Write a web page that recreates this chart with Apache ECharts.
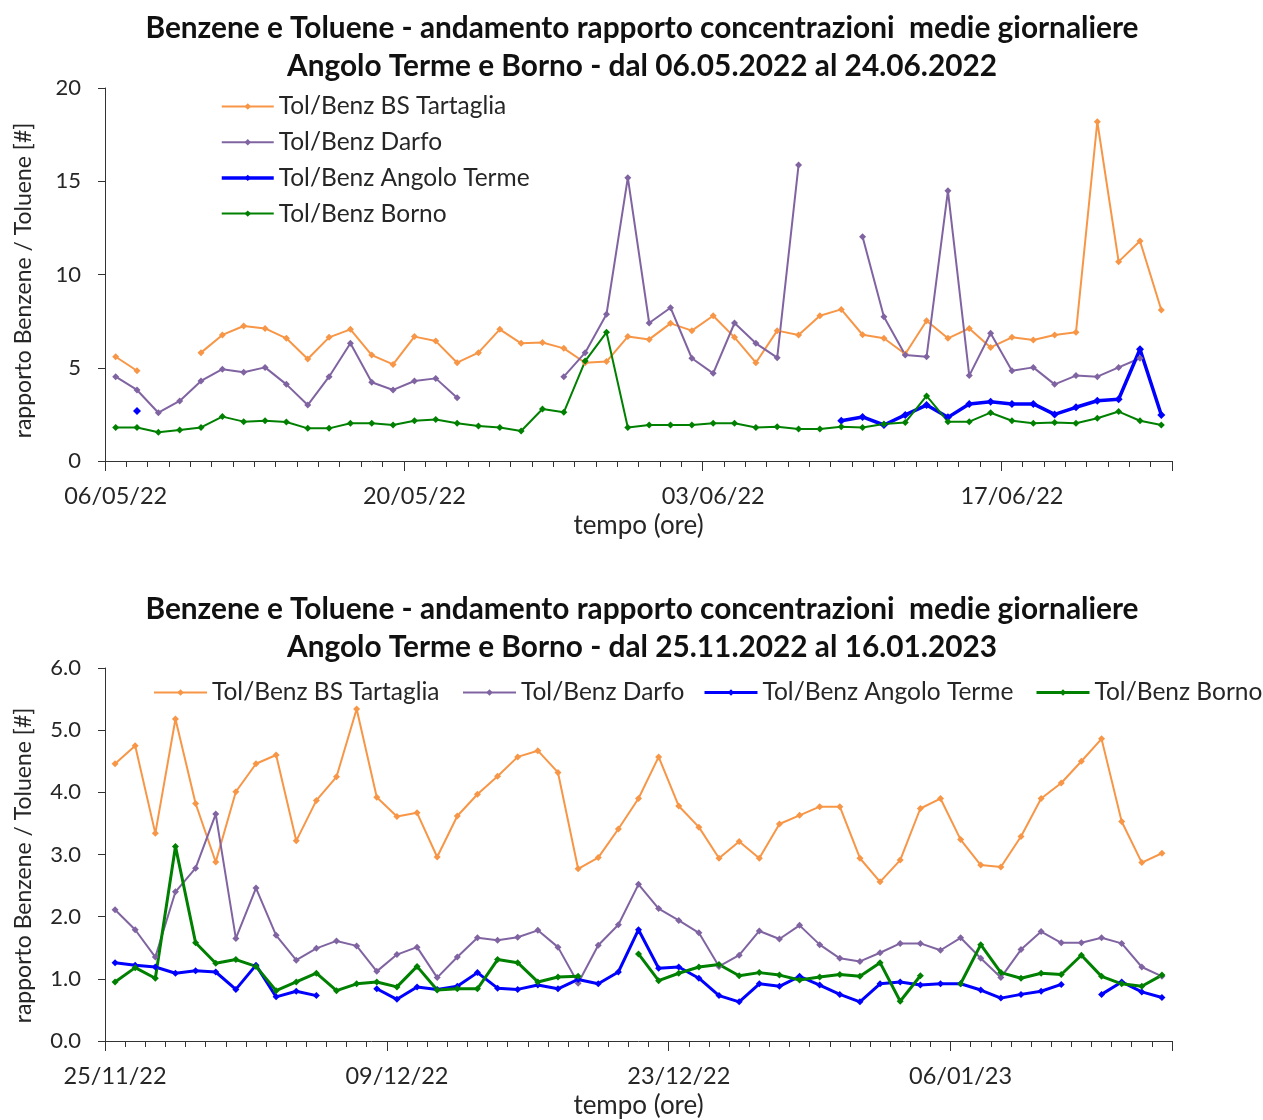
<!DOCTYPE html>
<html>
<head>
<meta charset="utf-8">
<script src="https://cdn.jsdelivr.net/npm/echarts@6/dist/echarts.min.js"></script>
<style>
  html, body { margin: 0; padding: 0; background: #fff; }
  #chart { width: 1263px; height: 1120px; }
</style>
</head>
<body>
<div id="chart"></div>
<script>
// ---- Period 1: 06/05/2022 - 24/06/2022 (daily) ----
const daysSpring = [
  '06/05/22','07/05/22','08/05/22','09/05/22','10/05/22','11/05/22','12/05/22','13/05/22','14/05/22','15/05/22',
  '16/05/22','17/05/22','18/05/22','19/05/22','20/05/22','21/05/22','22/05/22','23/05/22','24/05/22','25/05/22',
  '26/05/22','27/05/22','28/05/22','29/05/22','30/05/22','31/05/22','01/06/22','02/06/22','03/06/22','04/06/22',
  '05/06/22','06/06/22','07/06/22','08/06/22','09/06/22','10/06/22','11/06/22','12/06/22','13/06/22','14/06/22',
  '15/06/22','16/06/22','17/06/22','18/06/22','19/06/22','20/06/22','21/06/22','22/06/22','23/06/22','24/06/22'
];
const tartagliaSpring = [
  5.59, 4.84, null, null, 5.81, 6.76, 7.24, 7.11, 6.58, 5.47,
  6.63, 7.06, 5.68, 5.18, 6.67, 6.43, 5.27, 5.81, 7.06, 6.31,
  6.35, 6.04, 5.27, 5.33, 6.67, 6.52, 7.38, 6.99, 7.79, 6.63,
  5.27, 6.99, 6.76, 7.79, 8.13, 6.77, 6.58, 5.74, 7.52, 6.58,
  7.11, 6.09, 6.63, 6.49, 6.76, 6.90, 18.19, 10.69, 11.80, 8.10
];
const darfoSpring = [
  4.52, 3.81, 2.59, 3.22, 4.29, 4.92, 4.76, 5.02, 4.11, 3.00,
  4.52, 6.31, 4.22, 3.81, 4.29, 4.43, 3.39, null, null, null,
  null, 4.52, 5.81, 7.87, 15.19, 7.40, 8.22, 5.51, 4.70, 7.40,
  6.31, 5.54, 15.87, null, null, 12.03, 7.74, 5.68, 5.59, 14.49,
  4.58, 6.85, 4.84, 5.02, 4.11, 4.58, 4.52, 5.02, 5.51, null
];
const angoloSpring = [
  null, 2.68, null, null, null, null, null, null, null, null,
  null, null, null, null, null, null, null, null, null, null,
  null, null, null, null, null, null, null, null, null, null,
  null, null, null, null, 2.16, 2.36, 1.93, 2.47, 3.00, 2.34,
  3.06, 3.18, 3.06, 3.06, 2.50, 2.88, 3.23, 3.31, 5.99, 2.47
];
const bornoSpring = [
  1.80, 1.80, 1.54, 1.66, 1.80, 2.38, 2.11, 2.16, 2.09, 1.75,
  1.75, 2.02, 2.02, 1.93, 2.16, 2.23, 2.02, 1.88, 1.80, 1.61,
  2.79, 2.61, 5.36, 6.90, 1.80, 1.93, 1.93, 1.93, 2.02, 2.02,
  1.80, 1.84, 1.72, 1.72, 1.84, 1.80, 1.98, 2.07, 3.49, 2.11,
  2.11, 2.59, 2.16, 2.02, 2.07, 2.02, 2.29, 2.65, 2.16, 1.93
];

// ---- Period 2: 25/11/2022 - 16/01/2023 (daily) ----
const daysWinter = [
  '25/11/22','26/11/22','27/11/22','28/11/22','29/11/22','30/11/22','01/12/22','02/12/22','03/12/22','04/12/22',
  '05/12/22','06/12/22','07/12/22','08/12/22','09/12/22','10/12/22','11/12/22','12/12/22','13/12/22','14/12/22',
  '15/12/22','16/12/22','17/12/22','18/12/22','19/12/22','20/12/22','21/12/22','22/12/22','23/12/22','24/12/22',
  '25/12/22','26/12/22','27/12/22','28/12/22','29/12/22','30/12/22','31/12/22','01/01/23','02/01/23','03/01/23',
  '04/01/23','05/01/23','06/01/23','07/01/23','08/01/23','09/01/23','10/01/23','11/01/23','12/01/23','13/01/23',
  '14/01/23','15/01/23','16/01/23'
];
const tartagliaWinter = [
  4.46, 4.75, 3.34, 5.18, 3.82, 2.88, 4.01, 4.46, 4.60, 3.22,
  3.87, 4.25, 5.34, 3.92, 3.61, 3.67, 2.96, 3.62, 3.97, 4.26,
  4.57, 4.67, 4.32, 2.77, 2.95, 3.41, 3.90, 4.57, 3.78, 3.44,
  2.94, 3.21, 2.94, 3.49, 3.63, 3.77, 3.77, 2.94, 2.56, 2.91,
  3.74, 3.90, 3.24, 2.83, 2.80, 3.29, 3.90, 4.15, 4.50, 4.86,
  3.53, 2.87, 3.02
];
const darfoWinter = [
  2.11, 1.79, 1.35, 2.40, 2.78, 3.65, 1.65, 2.46, 1.70, 1.30,
  1.49, 1.61, 1.53, 1.12, 1.39, 1.51, 1.02, 1.35, 1.66, 1.62,
  1.67, 1.78, 1.51, 0.93, 1.54, 1.87, 2.52, 2.13, 1.94, 1.74,
  1.20, 1.38, 1.77, 1.64, 1.86, 1.55, 1.33, 1.28, 1.42, 1.57,
  1.57, 1.46, 1.66, 1.33, 1.02, 1.47, 1.76, 1.58, 1.58, 1.66,
  1.57, 1.19, 1.04
];
const angoloWinter = [
  1.26, 1.22, 1.19, 1.09, 1.13, 1.11, 0.83, 1.22, 0.71, 0.80,
  0.73, null, null, 0.84, 0.67, 0.87, 0.83, 0.88, 1.10, 0.85,
  0.83, 0.90, 0.84, 0.99, 0.92, 1.11, 1.79, 1.17, 1.19, 1.01,
  0.73, 0.63, 0.92, 0.88, 1.04, 0.90, 0.75, 0.63, 0.92, 0.95,
  0.90, 0.92, 0.92, 0.82, 0.69, 0.75, 0.80, 0.91, null, 0.75,
  0.95, 0.79, 0.70
];
const bornoWinter = [
  0.95, 1.18, 1.01, 3.13, 1.58, 1.25, 1.31, 1.20, 0.81, 0.95,
  1.09, 0.81, 0.92, 0.95, 0.87, 1.20, 0.82, 0.84, 0.84, 1.31,
  1.26, 0.95, 1.03, 1.04, null, null, 1.40, 0.97, 1.09, 1.19,
  1.23, 1.05, 1.10, 1.06, 0.98, 1.03, 1.07, 1.04, 1.26, 0.64,
  1.05, null, 0.92, 1.55, 1.10, 1.01, 1.09, 1.07, 1.38, 1.04,
  0.92, 0.88, 1.06
];

// Axis ticks
const ySpringTicks = { min: 0, max: 20, interval: 5 };
const yWinterTicks = { min: 0, max: 6, interval: 1 };
const labelStep = 14; // one date label every two weeks

const names = ['Tol/Benz BS Tartaglia', 'Tol/Benz Darfo', 'Tol/Benz Angolo Terme', 'Tol/Benz Borno'];
const titleSpring = 'Benzene e Toluene - andamento rapporto concentrazioni  medie giornaliere\nAngolo Terme e Borno - dal 06.05.2022 al 24.06.2022';
const titleWinter = 'Benzene e Toluene - andamento rapporto concentrazioni  medie giornaliere\nAngolo Terme e Borno - dal 25.11.2022 al 16.01.2023';
const yName = 'rapporto Benzene / Toluene [#]';
const xName = 'tempo (ore)';

const FONT = 'Lato';
const TXT = '#262626';
const AXIS = '#333333';
const colors = ['#F79646', '#8064A2', '#0000FF', '#008000'];
const LEGEND_FONT = { fontFamily: FONT, fontSize: 24.5, color: TXT, lineHeight: 22 };

function xAxes(days, gridIndex) {
  return [
    {
      type: 'category', gridIndex, data: days, boundaryGap: true,
      axisLine: { lineStyle: { color: AXIS, width: 1 } },
      axisTick: { show: true, interval: 0, length: 6, lineStyle: { color: AXIS } },
      axisLabel: { interval: labelStep - 1, margin: 23, color: TXT, fontFamily: FONT, fontSize: 23.5 },
      name: xName, nameLocation: 'middle', nameGap: 52,
      nameTextStyle: { color: TXT, fontFamily: FONT, fontSize: 26 },
      splitLine: { show: false }
    },
    {
      type: 'category', gridIndex, data: days, boundaryGap: true, position: 'bottom',
      axisLine: { show: false },
      axisTick: { show: true, interval: labelStep - 1, length: 10, lineStyle: { color: AXIS } },
      axisLabel: { show: false },
      splitLine: { show: false }
    }
  ];
}

function yAxis(ticks, gridIndex, digits, nameShift) {
  return {
    type: 'value', gridIndex, min: ticks.min, max: ticks.max, interval: ticks.interval,
    axisLine: { show: true, lineStyle: { color: AXIS } },
    axisTick: { show: true, length: 7, lineStyle: { color: AXIS } },
    axisLabel: {
      margin: 24, color: TXT, fontFamily: FONT, fontSize: 22,
      formatter: v => v.toFixed(digits)
    },
    splitLine: { show: false },
    name: yName, nameLocation: 'middle', nameGap: 70,
    nameTextStyle: { color: TXT, fontFamily: FONT, fontSize: 23, padding: [0, nameShift, 0, 0] }
  };
}

function lineSeries(name, data, color, width, axisIdx, symSize) {
  return {
    name, type: 'line', data,
    xAxisIndex: axisIdx, yAxisIndex: axisIdx / 2,
    symbol: 'diamond', symbolSize: symSize, showAllSymbol: true,
    connectNulls: false,
    lineStyle: { color, width },
    itemStyle: { color },
    emphasis: { disabled: true },
    z: 3
  };
}

function bottomLegend(name, left, width) {
  return {
    orient: 'horizontal', left, top: 675, itemWidth: 53, itemHeight: 8,
    textStyle: LEGEND_FONT,
    data: [{ name, lineStyle: { width } }]
  };
}

const TITLE_STYLE = { fontFamily: FONT, fontSize: 29.8, fontWeight: 'bold', color: '#111', lineHeight: 38 };

const option = {
  animation: false,
  backgroundColor: '#ffffff',
  textStyle: { fontFamily: FONT },
  title: [
    { text: titleSpring, left: 637, top: 4, textAlign: 'center', textStyle: TITLE_STYLE },
    { text: titleWinter, left: 637, top: 585, textAlign: 'center', textStyle: TITLE_STYLE }
  ],
  legend: [
    {
      orient: 'vertical', left: 215, top: 89, itemWidth: 52, itemHeight: 8, itemGap: 10.7,
      textStyle: LEGEND_FONT,
      data: [
        { name: names[0], lineStyle: { width: 2 } },
        { name: names[1], lineStyle: { width: 2 } },
        { name: names[2], lineStyle: { width: 3.5 } },
        { name: names[3], lineStyle: { width: 2 } }
      ]
    },
    bottomLegend(names[0], 148, 2),
    bottomLegend(names[1], 457, 2),
    bottomLegend(names[2], 698, 3),
    bottomLegend(names[3], 1030, 3)
  ],
  grid: [
    { left: 105, right: 91, top: 88, height: 373, containLabel: false },
    { left: 105, right: 91, top: 668, height: 373, containLabel: false }
  ],
  xAxis: [...xAxes(daysSpring, 0), ...xAxes(daysWinter, 1)],
  yAxis: [yAxis(ySpringTicks, 0, 0, 12), yAxis(yWinterTicks, 1, 1, 22)],
  series: [
    lineSeries(names[0], tartagliaSpring, colors[0], 2, 0, 7),
    lineSeries(names[1], darfoSpring, colors[1], 2, 0, 7),
    lineSeries(names[2], angoloSpring, colors[2], 3.5, 0, 8),
    lineSeries(names[3], bornoSpring, colors[3], 2, 0, 7),
    lineSeries(names[0], tartagliaWinter, colors[0], 2, 2, 7),
    lineSeries(names[1], darfoWinter, colors[1], 2, 2, 7),
    lineSeries(names[2], angoloWinter, colors[2], 3, 2, 7),
    lineSeries(names[3], bornoWinter, colors[3], 3, 2, 7)
  ]
};

const chart = echarts.init(document.getElementById('chart'), null, { renderer: 'canvas' });
chart.setOption(option);
</script>
</body>
</html>
